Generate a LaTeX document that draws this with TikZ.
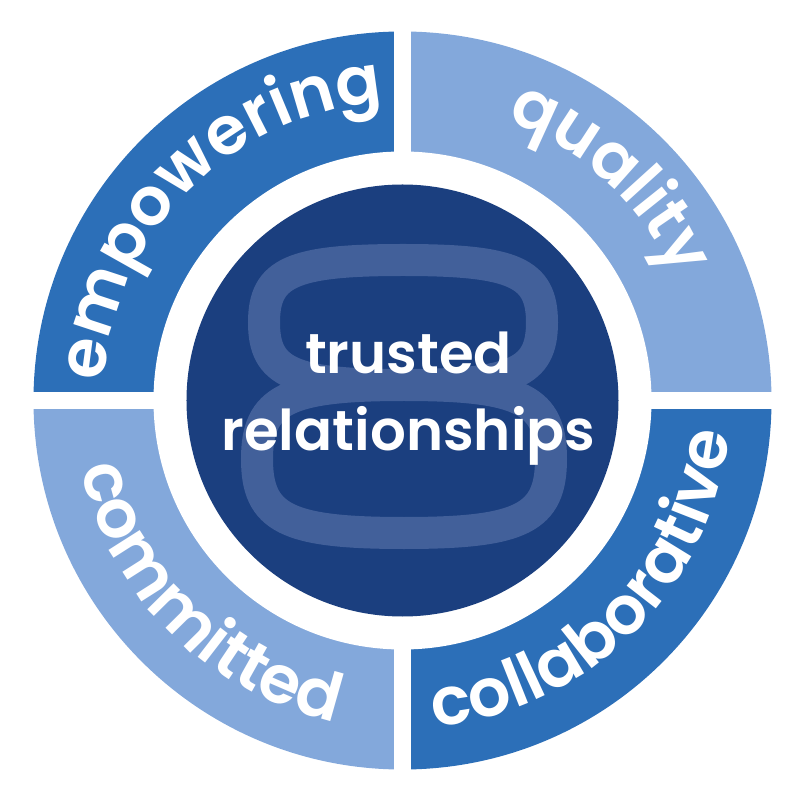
\documentclass[tikz,border=0pt]{standalone}
\usepackage{fontspec}
\setmainfont{Poppins}[BoldFont={Poppins SemiBold}]
\usetikzlibrary{decorations.text}
\definecolor{ringdark}{HTML}{2C6FB8}
\definecolor{ringlight}{HTML}{83A8DB}
\definecolor{core}{HTML}{1B3F7F}
\definecolor{eight}{HTML}{42609A}
\newcommand{\ringfont}{\color{white}\bfseries\fontsize{19}{19}\selectfont}
% one loop of the 8: centre x, centre y, half width, half height
\newcommand{\eightloop}[4]{%
  ({#1},{#2+#4}) .. controls ({#1+0.8*#3},{#2+#4}) and ({#1+#3},{#2+0.8*#4}) .. ({#1+#3},{#2})
  .. controls ({#1+#3},{#2-0.8*#4}) and ({#1+0.8*#3},{#2-#4}) .. ({#1},{#2-#4})
  .. controls ({#1-0.8*#3},{#2-#4}) and ({#1-#3},{#2-0.8*#4}) .. ({#1-#3},{#2})
  .. controls ({#1-#3},{#2+0.8*#4}) and ({#1-0.8*#3},{#2+#4}) .. cycle}
\tikzset{
  quarter dark/.style={fill=ringdark},
  quarter light/.style={fill=ringlight},
  eight loop/.style={draw=eight, line width=0.32cm},
  ring text/.style={decorate, decoration={text along path, text align=center, text={|\ringfont|#1}}},
  title/.style={text=white, font=\bfseries\fontsize{16}{22}\selectfont, align=center, inner sep=0pt},
}

\begin{document}
\begin{tikzpicture}
  \useasboundingbox (-4.025,-3.995) rectangle (3.975,4.005);

  % Four quarters of the ring, split by a white cross
  \begin{scope}
    \clip (0,0) circle (3.69);
    \fill[quarter dark]  (-0.085,0.085) rectangle (-4,4);
    \fill[quarter light] (0.085,0.085) rectangle (4,4);
    \fill[quarter light] (-0.085,-0.085) rectangle (-4,-4);
    \fill[quarter dark]  (0.085,-0.085) rectangle (4,-4);
  \end{scope}
  \fill[white] (0,0) circle (2.49);

  % Middle disc with the big 8
  \fill[core] (0,0) circle (2.16);
  \draw[eight loop] \eightloop{0.015}{-0.585}{1.47}{0.74};
  \draw[eight loop] \eightloop{0.005}{0.78}{1.39}{0.625};
  \node[title] (trust) at (0.06,0.02) {trusted\\relationships};

  % Words round the ring
  \path[ring text={empowering}] (180:2.99) arc[start angle=180, end angle=90, radius=2.99];
  \path[ring text={quality}] (94:2.99) arc[start angle=94, end angle=0, radius=2.99];
  \path[ring text={committed}] (180:3.28) arc[start angle=180, end angle=270, radius=3.28];
  \path[ring text={collaborative}] (270:3.28) arc[start angle=270, end angle=360, radius=3.28];

\end{tikzpicture}
\end{document}
